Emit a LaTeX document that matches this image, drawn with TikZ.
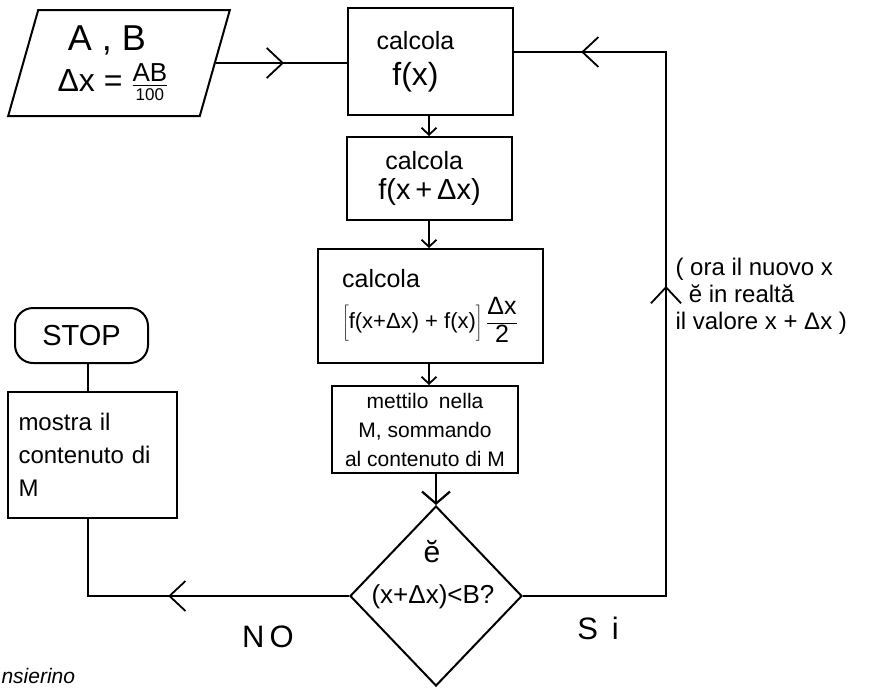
\documentclass[tikz,border=0pt]{standalone}
\usepackage{fontspec}
\setmainfont{Liberation Sans}
\usetikzlibrary{shapes.geometric,decorations.markings,arrows.meta}
\tikzset{
  ln/.style={line width=1.8pt},
  box/.style={draw,line width=2pt,rectangle,inner sep=4pt},
  hw/.style={font=\fontsize{25}{30}\selectfont},
  barb/.style={-{Straight Barb[length=7pt,width=15pt,line width=1.8pt]}},
  bigbarb/.style={-{Straight Barb[length=12pt,width=28pt,line width=2.2pt]}},
  midarrow/.style={postaction={decorate},decoration={markings,mark=at position #1 with {\arrow{Straight Barb[length=16pt,width=30pt,line width=1.8pt]}}}},
  looparrows/.style={postaction={decorate},decoration={markings,
     mark=at position 0.54 with {\arrow{Straight Barb[length=16pt,width=30pt,line width=1.8pt]}},
     mark=at position 0.92 with {\arrow{Straight Barb[length=16pt,width=30pt,line width=1.8pt]}}}}
}
\begin{document}
\begin{tikzpicture}[x=1pt,y=-1pt]
\useasboundingbox (0,0) rectangle (891,689);

% input parallelogram
\node[draw,line width=2pt,trapezium,trapezium left angle=73,trapezium right angle=107,
      trapezium stretches=true,minimum width=222pt,minimum height=106pt,
      align=center,inner sep=0pt] (in) at (119,63)
  {{\fontsize{36}{38}\selectfont A , B\hspace*{24pt}}\\[8pt]
   {\fontsize{32}{34}\selectfont Δx = $\frac{\hbox{\fontsize{26}{26}\selectfont AB}}{\hbox{\fontsize{17}{17}\selectfont 100}}$\hspace*{12pt}}};

% process boxes
\node[box,hw,minimum width=165pt,minimum height=107pt,align=center] (b1) at (430.5,61.5)
  {calcola\hspace*{30pt}\\[6pt]{\fontsize{32}{34}\selectfont f(x)\hspace*{30pt}}};
\node[box,hw,minimum width=165pt,minimum height=83pt,align=left,inner sep=2pt] (b2) at (429.5,178.5)
  {\ calcola\\{\fontsize{29}{34}\selectfont f(x\,+\,Δx)}};
\node[box,hw,minimum width=225pt,minimum height=114pt,align=left,inner sep=3pt] (b3) at (430,306)
  {calcola\\[8pt]{\fontsize{22}{26}\selectfont $\left[\rule[-10pt]{0pt}{32pt}\hbox{f(x+Δx) + f(x)}\right]$\,$\displaystyle\frac{\hbox{\fontsize{25}{25}\selectfont Δx}}{\hbox{\fontsize{25}{25}\selectfont 2}}$}};
\node[box,minimum width=186pt,minimum height=87pt,align=center,inner sep=2pt,font=\fontsize{21}{29}\selectfont] (b4) at (425,429.5)
  {mettilo\enspace nella\\M, sommando\\al contenuto di M};

% decision
\node[draw,line width=2pt,diamond,minimum width=172pt,minimum height=180pt,inner sep=0pt] (d) at (436,596) {};
\node[font=\fontsize{30}{30}\selectfont] (dq1) at (432,552) {ĕ};
\node[font=\fontsize{26}{26}\selectfont] (dq2) at (433,597) {(x+Δx)<B?};

% output and stop
\node[box,minimum width=169pt,minimum height=126pt,text width=156pt,align=left,inner sep=2pt,
      font=\fontsize{24}{33}\selectfont] (b5) at (92.5,455)
  {\,mostra il\\\,contenuto di\\\,M};
\node[draw,line width=2pt,rounded corners=18pt,minimum width=133pt,minimum height=55pt,
      font=\fontsize{29}{29}\selectfont] (stop) at (81.5,335.5) {STOP};

% labels
\node[font=\fontsize{31}{31}\selectfont] (no) at (268,637) {N\,O};
\node[font=\fontsize{31}{31}\selectfont] (si) at (598,628) {S\;\,i};
\node[anchor=west,align=left,font=\fontsize{24}{27}\selectfont] (note) at (672,296)
  {( ora il nuovo x\\\ \ ĕ in realtă\\ il valore x + Δx )};
\node[anchor=base west,font=\fontsize{21}{21}\selectfont\itshape] (cap) at (-2,683) {nsierino};

% connectors
\coordinate (ax) at (429,0);
\coordinate (rx) at (666,52);
\coordinate (lx) at (88,0);
\draw[ln,midarrow=0.52] (in.east) -- (in.east -| b1.west);
\draw[ln,barb] (b1.south -| ax) -- (b2.north -| ax);
\draw[ln,barb] (b2.south -| ax) -- (b3.north -| ax);
\draw[ln,barb] (b3.south -| ax) -- (b4.north -| ax);
\draw[ln,bigbarb] (b4.south -| d.north) -- (d.north);
\draw[ln,looparrows] (d.east) -- (d.east -| rx) -- (rx) -- (rx -| b1.east);
\draw[ln,midarrow=0.535] (d.west) -- (d.west -| lx) -- (b5.south -| lx);
\draw[ln] (stop.south -| lx) -- (b5.north -| lx);
\end{tikzpicture}
\end{document}
